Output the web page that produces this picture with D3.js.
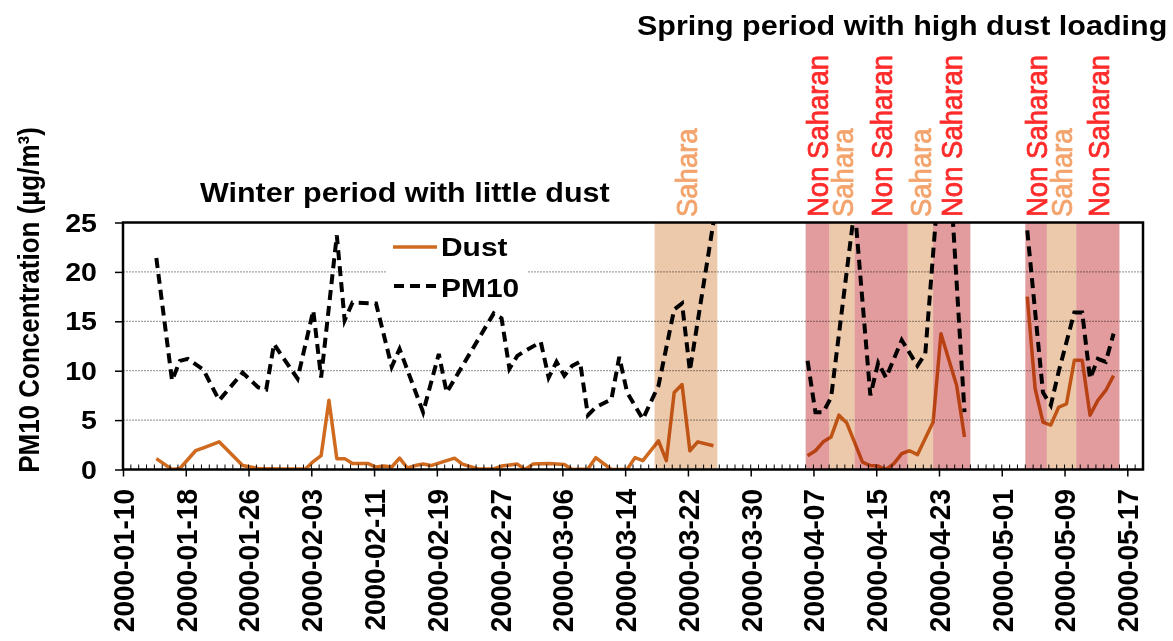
<!DOCTYPE html>
<html>
<head>
<meta charset="utf-8">
<script src="https://d3js.org/d3.v7.min.js"></script>
<style>
body { margin: 0; background: #fff; }
text { font-family: "Liberation Sans", Arial, sans-serif; }
</style>
</head>
<body>
<div id="chart"></div>
<script>
// PM10 (null = break in the line)
var pm10Dates = ["2000-01-14","2000-01-16","2000-01-17","2000-01-18","2000-01-20","2000-01-22","2000-01-25","2000-01-27","2000-01-28","2000-01-29","2000-01-30","2000-02-01","2000-02-03","2000-02-04","2000-02-06","2000-02-07","2000-02-08","2000-02-11","2000-02-13","2000-02-14","2000-02-17","2000-02-19","2000-02-20","2000-02-26","2000-02-27","2000-02-28","2000-02-29","2000-03-01","2000-03-03","2000-03-04","2000-03-05","2000-03-06","2000-03-07","2000-03-08","2000-03-09","2000-03-10","2000-03-12","2000-03-13","2000-03-14","2000-03-16","2000-03-18","2000-03-20","2000-03-21","2000-03-22","2000-03-25",
    "2000-03-31",
    "2000-04-06","2000-04-07","2000-04-08","2000-04-09","2000-04-12","2000-04-14","2000-04-15","2000-04-16","2000-04-18","2000-04-20","2000-04-21","2000-04-23","2000-04-24","2000-04-26",
    "2000-05-01",
    "2000-05-04","2000-05-06","2000-05-07","2000-05-08","2000-05-10","2000-05-11","2000-05-12","2000-05-13","2000-05-14","2000-05-15"];
var pm10Values = [21.4,9.0,11.0,11.2,10.1,7.0,9.8,8.3,8.1,12.7,11.5,9.2,16.1,9.3,23.7,15.1,16.9,16.8,10.4,12.2,5.8,11.7,7.8,15.8,15.3,10.2,11.5,12.0,12.9,9.3,10.9,9.5,10.5,10.9,5.5,6.3,7.1,11.4,7.8,5.1,8.5,16.2,16.8,10.0,25.0,
    null,
    11.0,5.8,5.8,7.3,26.5,7.5,10.8,9.3,13.1,10.5,11.7,32,32,5.8,
    null,
    24.2,7.8,6.5,9.9,15.9,15.9,9.2,11.2,10.9,13.75];

// Dust
var dustDates = ["2000-01-14","2000-01-16","2000-01-17","2000-01-19","2000-01-20","2000-01-22","2000-01-25","2000-01-27","2000-01-30","2000-02-02","2000-02-03","2000-02-04","2000-02-05","2000-02-06","2000-02-07","2000-02-08","2000-02-10","2000-02-11","2000-02-12","2000-02-13","2000-02-14","2000-02-15","2000-02-16","2000-02-17","2000-02-18","2000-02-21","2000-02-22","2000-02-24","2000-02-26","2000-02-27","2000-02-29","2000-03-01","2000-03-02","2000-03-04","2000-03-06","2000-03-07","2000-03-09","2000-03-10","2000-03-12","2000-03-14","2000-03-15","2000-03-16","2000-03-18","2000-03-19","2000-03-20","2000-03-21","2000-03-22","2000-03-23","2000-03-25",
    "2000-03-31",
    "2000-04-06","2000-04-07","2000-04-08","2000-04-09","2000-04-10","2000-04-11","2000-04-13","2000-04-14","2000-04-15","2000-04-16","2000-04-17","2000-04-18","2000-04-19","2000-04-20","2000-04-22","2000-04-23","2000-04-25","2000-04-26",
    "2000-05-01",
    "2000-05-04","2000-05-05","2000-05-06","2000-05-07","2000-05-08","2000-05-09","2000-05-10","2000-05-11","2000-05-12","2000-05-13","2000-05-14","2000-05-15"];
var dustValues = [1.1,0.0,0.1,1.9,2.2,2.8,0.4,0.1,0.05,0.05,0.8,1.4,7.0,1.1,1.1,0.6,0.6,0.25,0.35,0.25,1.15,0.15,0.4,0.55,0.4,1.15,0.55,0.05,0.05,0.35,0.55,0.0,0.55,0.6,0.5,0.0,0.05,1.2,0.0,0.0,1.2,0.9,2.9,0.9,7.8,8.6,1.9,2.8,2.4,
    null,
    1.4,1.9,2.8,3.3,5.5,4.7,0.75,0.4,0.35,0.0,0.6,1.6,1.9,1.5,4.8,13.75,8.5,3.3,
    null,
    17.5,8.2,4.8,4.5,6.3,6.65,11.05,11.05,5.5,7.0,8.0,9.5];

// dust source periods
var bandTypes  = ["Sahara","Non Saharan","Sahara","Non Saharan","Sahara","Non Saharan","Non Saharan","Sahara","Non Saharan"];
var bandStarts = ["2000-03-17T18:00","2000-04-06T00:00","2000-04-09T00:00","2000-04-12T06:00","2000-04-19T00:00","2000-04-22T06:00","2000-05-04T00:00","2000-05-06T18:00","2000-05-10T12:00"];
var bandEnds   = ["2000-03-25T18:00","2000-04-09T00:00","2000-04-12T06:00","2000-04-19T00:00","2000-04-22T06:00","2000-04-27T00:00","2000-05-06T18:00","2000-05-10T12:00","2000-05-16T00:00"];

var yTicks = [0, 5, 10, 15, 20, 25];
var xTickLabels = ["2000-01-10","2000-01-18","2000-01-26","2000-02-03","2000-02-11","2000-02-19","2000-02-27","2000-03-06","2000-03-14","2000-03-22","2000-03-30","2000-04-07","2000-04-15","2000-04-23","2000-05-01","2000-05-09","2000-05-17"];

//SVG設定
var width = 1173;
var height = 641;
var plotLeft = 123, plotRight = 1143, plotTop = 222.5, plotBottom = 469.5;
var svg = d3.select("#chart").append("svg").attr("width", width).attr("height", height);

var parse = d3.utcParse("%Y-%m-%d");
var parseT = d3.utcParse("%Y-%m-%dT%H:%M");

var xScale = d3.scaleUtc()
    .domain([parse("2000-01-10"), parse("2000-05-19")])
    .range([plotLeft, plotRight]);
var yScale = d3.scaleLinear()
    .domain([0, 25])
    .range([plotBottom, plotTop]);

// points sit a little after midnight in the original
function px(d) { return xScale(d3.utcHour.offset(d, 6)); }

var orange = "#cf6a1f";
var colors = { "Sahara": "#edc9ac", "Non Saharan": "#e39c9e" };
var textColors = { "Sahara": "#f3a36b", "Non Saharan": "#ff2a2a" };

function makeSeries(dates, values) {
    return dates.map(function(d, i) { return { date: parse(d), value: values[i] }; });
}
var pm10 = makeSeries(pm10Dates, pm10Values);
var dust = makeSeries(dustDates, dustValues);
var bands = bandTypes.map(function(t, i) {
    return { type: t, start: parseT(bandStarts[i]), end: parseT(bandEnds[i]) };
});

svg.append("clipPath").attr("id", "plot-clip")
    .append("rect")
    .attr("x", plotLeft).attr("y", plotTop)
    .attr("width", plotRight - plotLeft).attr("height", plotBottom - plotTop);

//グリッド
svg.append("g")
    .selectAll("line")
    .data(yTicks.filter(function(v) { return v > 0 && v < 25; }))
    .enter()
    .append("line")
    .attr("x1", plotLeft).attr("x2", plotRight)
    .attr("y1", function(d) { return yScale(d); })
    .attr("y2", function(d) { return yScale(d); })
    .attr("stroke", "#8a8a8a")
    .attr("stroke-width", 1)
    .attr("stroke-dasharray", "2,1");

// legend background
svg.append("rect")
    .attr("x", 387).attr("y", plotTop + 2)
    .attr("width", 140).attr("height", 82)
    .attr("fill", "#fff");

//折れ線
var line = d3.line()
    .defined(function(d) { return d.value != null; })
    .x(function(d) { return px(d.date); })
    .y(function(d) { return yScale(d.value); });

var lines = svg.append("g").attr("clip-path", "url(#plot-clip)");

lines.append("path")
    .datum(dust)
    .attr("fill", "none")
    .attr("stroke", orange)
    .attr("stroke-width", 3.5)
    .attr("stroke-linejoin", "round")
    .attr("d", line);

lines.append("path")
    .datum(pm10)
    .attr("fill", "none")
    .attr("stroke", "#000")
    .attr("stroke-width", 4)
    .attr("stroke-dasharray", "10,6")
    .attr("d", line);

// periods (multiplied over the lines)
svg.append("g")
    .selectAll("rect")
    .data(bands)
    .enter()
    .append("rect")
    .attr("x", function(d) { return xScale(d.start); })
    .attr("width", function(d) { return xScale(d.end) - xScale(d.start); })
    .attr("y", plotTop)
    .attr("height", plotBottom - plotTop)
    .attr("fill", function(d) { return colors[d.type]; })
    .style("mix-blend-mode", "multiply");

svg.append("g")
    .selectAll("text")
    .data(bands)
    .enter()
    .append("text")
    .attr("transform", function(d) {
        var cx = (xScale(d.start) + xScale(d.end)) / 2;
        return "translate(" + cx + ",217) rotate(-90) scale(1,1.08)";
    })
    .attr("dy", "0.36em")
    .attr("text-anchor", "start")
    .attr("font-size", "27.5px")
    .attr("fill", function(d) { return textColors[d.type]; })
    .attr("stroke", function(d) { return textColors[d.type]; })
    .attr("stroke-width", 0.7)
    .text(function(d) { return d.type; });

//枠と軸
svg.append("rect")
    .attr("x", plotLeft).attr("y", plotTop)
    .attr("width", plotRight - plotLeft).attr("height", plotBottom - plotTop)
    .attr("fill", "none")
    .attr("stroke", "#000")
    .attr("stroke-width", 2.5);

// minor ticks (daily, inside)
svg.append("g")
    .selectAll("line")
    .data(d3.utcDay.range(parse("2000-01-11"), parse("2000-05-19")))
    .enter()
    .append("line")
    .attr("x1", function(d) { return xScale(d); })
    .attr("x2", function(d) { return xScale(d); })
    .attr("y1", plotBottom).attr("y2", plotBottom - 5)
    .attr("stroke", "#000")
    .attr("stroke-width", 1);

var axisx = d3.axisBottom(xScale)
    .tickValues(xTickLabels.map(parse))
    .tickSize(7)
    .tickFormat("");
svg.append("g")
    .attr("transform", "translate(0," + plotBottom + ")")
    .call(axisx)
    .call(function(g) {
        g.select(".domain").remove();
        g.selectAll("line").attr("stroke-width", 1.5);
    });

var axisy = d3.axisLeft(yScale)
    .tickValues(yTicks)
    .tickSize(8)
    .tickFormat("");
svg.append("g")
    .attr("transform", "translate(" + plotLeft + ",0)")
    .call(axisy)
    .call(function(g) {
        g.select(".domain").remove();
        g.selectAll("line").attr("stroke-width", 1.5);
    });

// tick labels
svg.append("g")
    .selectAll("text")
    .data(yTicks)
    .enter()
    .append("text")
    .attr("transform", function(d) { return "translate(97," + yScale(d) + ") scale(1.12,1)"; })
    .attr("dy", "0.36em")
    .attr("text-anchor", "end")
    .attr("font-size", "25.5px")
    .attr("font-weight", "bold")
    .text(function(d) { return d; });

svg.append("g")
    .selectAll("text")
    .data(xTickLabels)
    .enter()
    .append("text")
    .attr("transform", function(d) { return "translate(" + xScale(parse(d)) + ",489) rotate(-90) scale(1,1.08)"; })
    .attr("dy", "0.36em")
    .attr("text-anchor", "end")
    .attr("font-size", "28px")
    .attr("font-weight", "bold")
    .text(function(d) { return d; });

svg.append("text")
    .attr("transform", "translate(29,300) rotate(-90) scale(1,1.1)")
    .attr("dy", "0.36em")
    .attr("text-anchor", "middle")
    .attr("font-size", "26px")
    .attr("font-weight", "bold")
    .text("PM10 Concentration (\u00b5g/m\u00b3)");

//凡例
svg.append("line")
    .attr("x1", 393).attr("x2", 437).attr("y1", 247).attr("y2", 247)
    .attr("stroke", orange).attr("stroke-width", 3.5);
svg.append("line")
    .attr("x1", 394).attr("x2", 437).attr("y1", 286).attr("y2", 286)
    .attr("stroke", "#000").attr("stroke-width", 4)
    .attr("stroke-dasharray", "10,6");
svg.append("text")
    .attr("transform", "translate(441,256) scale(1.13,1)")
    .attr("font-size", "26.5px").attr("font-weight", "bold")
    .text("Dust");
svg.append("text")
    .attr("transform", "translate(441,297) scale(1.13,1)")
    .attr("font-size", "26.5px").attr("font-weight", "bold")
    .text("PM10");

// titles
svg.append("text")
    .attr("transform", "translate(200,202) scale(1.13,1)")
    .attr("font-size", "27px").attr("font-weight", "bold")
    .text("Winter period with little dust");
svg.append("text")
    .attr("transform", "translate(637,35) scale(1.13,1)")
    .attr("font-size", "27px").attr("font-weight", "bold")
    .text("Spring period with high dust loading");
</script>
</body>
</html>
